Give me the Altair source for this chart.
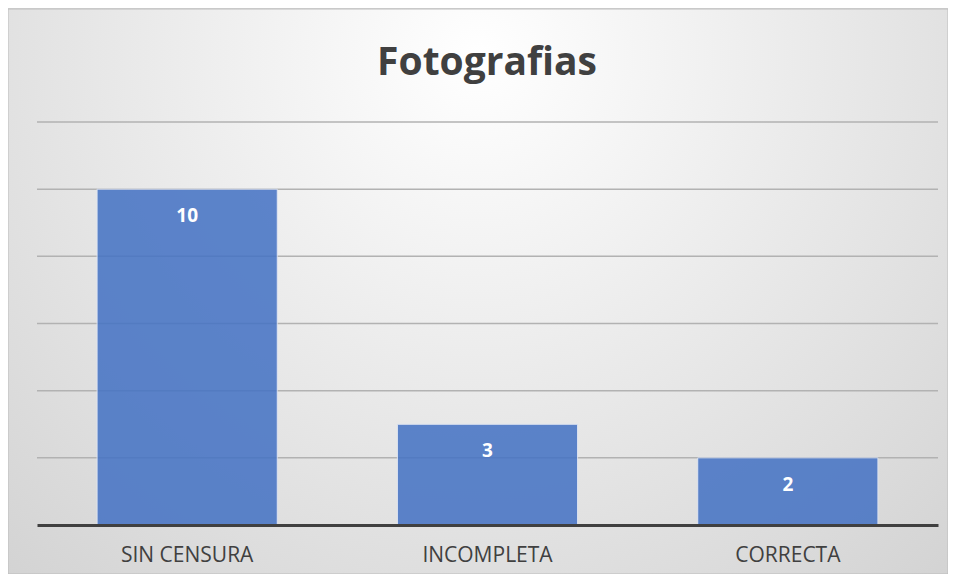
import altair as alt
import pandas as pd

categories = ["SIN CENSURA", "INCOMPLETA", "CORRECTA"]
values = [10, 3, 2]
title_text = "Fotografias"
grid_ticks = [2, 4, 6, 8, 10, 12]

df = pd.DataFrame({"cat": categories, "val": values})
gdf = pd.DataFrame({"g": grid_ticks})

W, H = 901, 403
PL, PT, PR, PB = 29, 114, 10, 49
FONT = "Open Sans"

yscale = alt.Scale(domain=[0, 12], nice=False)

x_enc = alt.X("cat:N", sort=categories, title=None,
              scale=alt.Scale(paddingInner=0.4, paddingOuter=0.2),
              axis=alt.Axis(labelAngle=0, labelFontSize=21, labelColor="#404040",
                            labelFont=FONT, labelPadding=19, ticks=False,
                            domainColor="#404040", domainWidth=3, grid=False,
                            zindex=1))
y_enc = alt.Y("val:Q", title=None, scale=yscale, axis=None)

bg = alt.Chart(pd.DataFrame({"a": [0]})).mark_rect(
    fill={"gradient": "radial",
          "x1": 0.5, "y1": 0.25, "r1": 0,
          "x2": 0.5, "y2": 0.25, "r2": 0.85,
          "stops": [{"offset": 0, "color": "#ffffff"},
                    {"offset": 1, "color": "#cdcdcd"}]},
    stroke="#bdbdbd", strokeWidth=1
).encode(x=alt.value(-PL), x2=alt.value(W + PR),
         y=alt.value(-PT + 1), y2=alt.value(H + PB))

grid = alt.Chart(gdf).mark_rule(color="#b2b2b2", strokeWidth=1.5).encode(
    y=alt.Y("g:Q", scale=yscale, axis=None))

base = alt.Chart(df)

bars = base.mark_bar(color="#4472C4", opacity=0.86, stroke="#dfe6f4",
                     strokeWidth=1).encode(x=x_enc, y=y_enc)

labels = base.mark_text(color="white", fontSize=19, fontWeight="bold", font=FONT,
                        baseline="middle", dy=27).encode(
    x=alt.X("cat:N", sort=categories), y="val:Q", text="val:Q")

title = alt.Chart(pd.DataFrame({"t": [title_text]})).mark_text(
    fontSize=39, fontWeight="bold", color="#404040", font=FONT,
    baseline="middle", align="center").encode(
    x=alt.value(450), y=alt.value(-59), text="t:N")

chart = alt.layer(bg, grid, bars, labels, title).properties(
    width=W, height=H,
    autosize=alt.AutoSizeParams(type="none"),
    padding={"left": PL, "top": PT, "right": PR, "bottom": PB},
    background="#d6d6d6",
).configure_view(strokeWidth=0)

chart.save("out.html", embed_options={"renderer": "svg", "actions": False})
